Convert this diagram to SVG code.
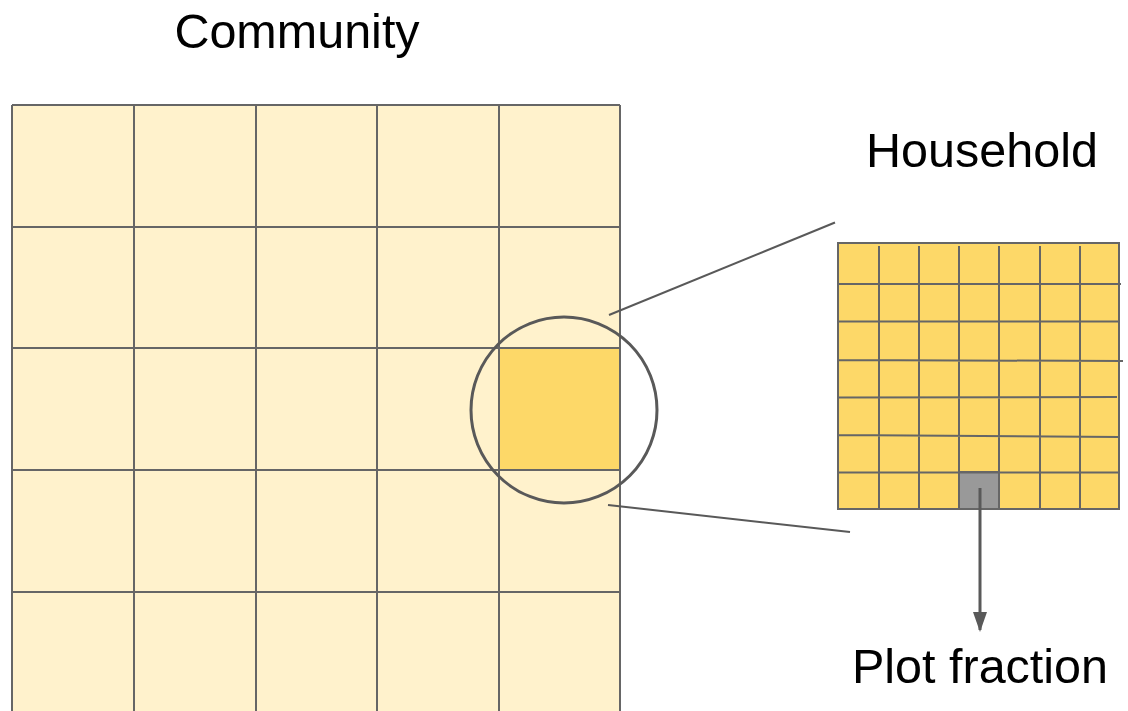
<svg xmlns="http://www.w3.org/2000/svg" width="1128" height="711" viewBox="0 0 1128 711">
<defs>
<style>
.label{font-family:"Liberation Sans",Arial,sans-serif;font-size:48.5px;fill:#000}
.grid{stroke:#666;stroke-width:2;fill:none}
.hgrid{stroke:#666;stroke-width:2;fill:none}
.conn{stroke:#595959;stroke-width:2;fill:none}
</style>
<marker id="arrow" viewBox="0 0 20 14" refX="18" refY="7" markerWidth="20" markerHeight="14" markerUnits="userSpaceOnUse" orient="auto">
<path d="M0,0 L20,7 L0,14 z" fill="#595959"/>
</marker>
</defs>
<rect width="1128" height="711" fill="#fff"/>
<g id="community">
<rect x="12" y="105" width="608" height="620" fill="#fff2cc"/>
<rect x="499" y="348" width="121" height="122" fill="#fdd868"/>
<path class="grid" d="M12,105 V711 M134,105 V711 M256,105 V711 M377,105 V711 M499,105 V711 M620,105 V711 M12,105 H620 M12,227 H620 M12,348 H620 M12,470 H620 M12,592 H620"/>
<text class="label" x="297" y="48" text-anchor="middle">Community</text>
</g>
<g id="zoom-circle">
<circle cx="564" cy="410" r="93" fill="none" stroke="#595959" stroke-width="3"/>
</g>
<g id="household">
<rect x="838" y="243" width="281" height="266" fill="#fdd868"/>
<rect x="959" y="472" width="40" height="37" fill="#999" stroke="#666" stroke-width="2"/>
<path class="hgrid" d="M838,243 H1119 V509 H838 Z M879,246 V509 M919,246 V509 M959,246 V509 M999,246 V509 M1040,246 V509 M1080,246 V509 M838,284 H1121 M838,321.5 H1119 M838,360 L1123,361 M838,397.5 L1117,397 M838,435 L1119,437 M838,472.5 H1119"/>
<text class="label" x="982" y="166.5" text-anchor="middle">Household</text>
</g>
<g id="plot-fraction">
<text class="label" x="980" y="683" text-anchor="middle">Plot fraction</text>
</g>
<g id="connectors">
<line class="conn" x1="609" y1="315" x2="835" y2="222.5"/>
<line class="conn" x1="608" y1="505" x2="850" y2="532"/>
<line stroke="#595959" stroke-width="3" x1="980" y1="488" x2="980" y2="630" marker-end="url(#arrow)"/>
</g>
</svg>
